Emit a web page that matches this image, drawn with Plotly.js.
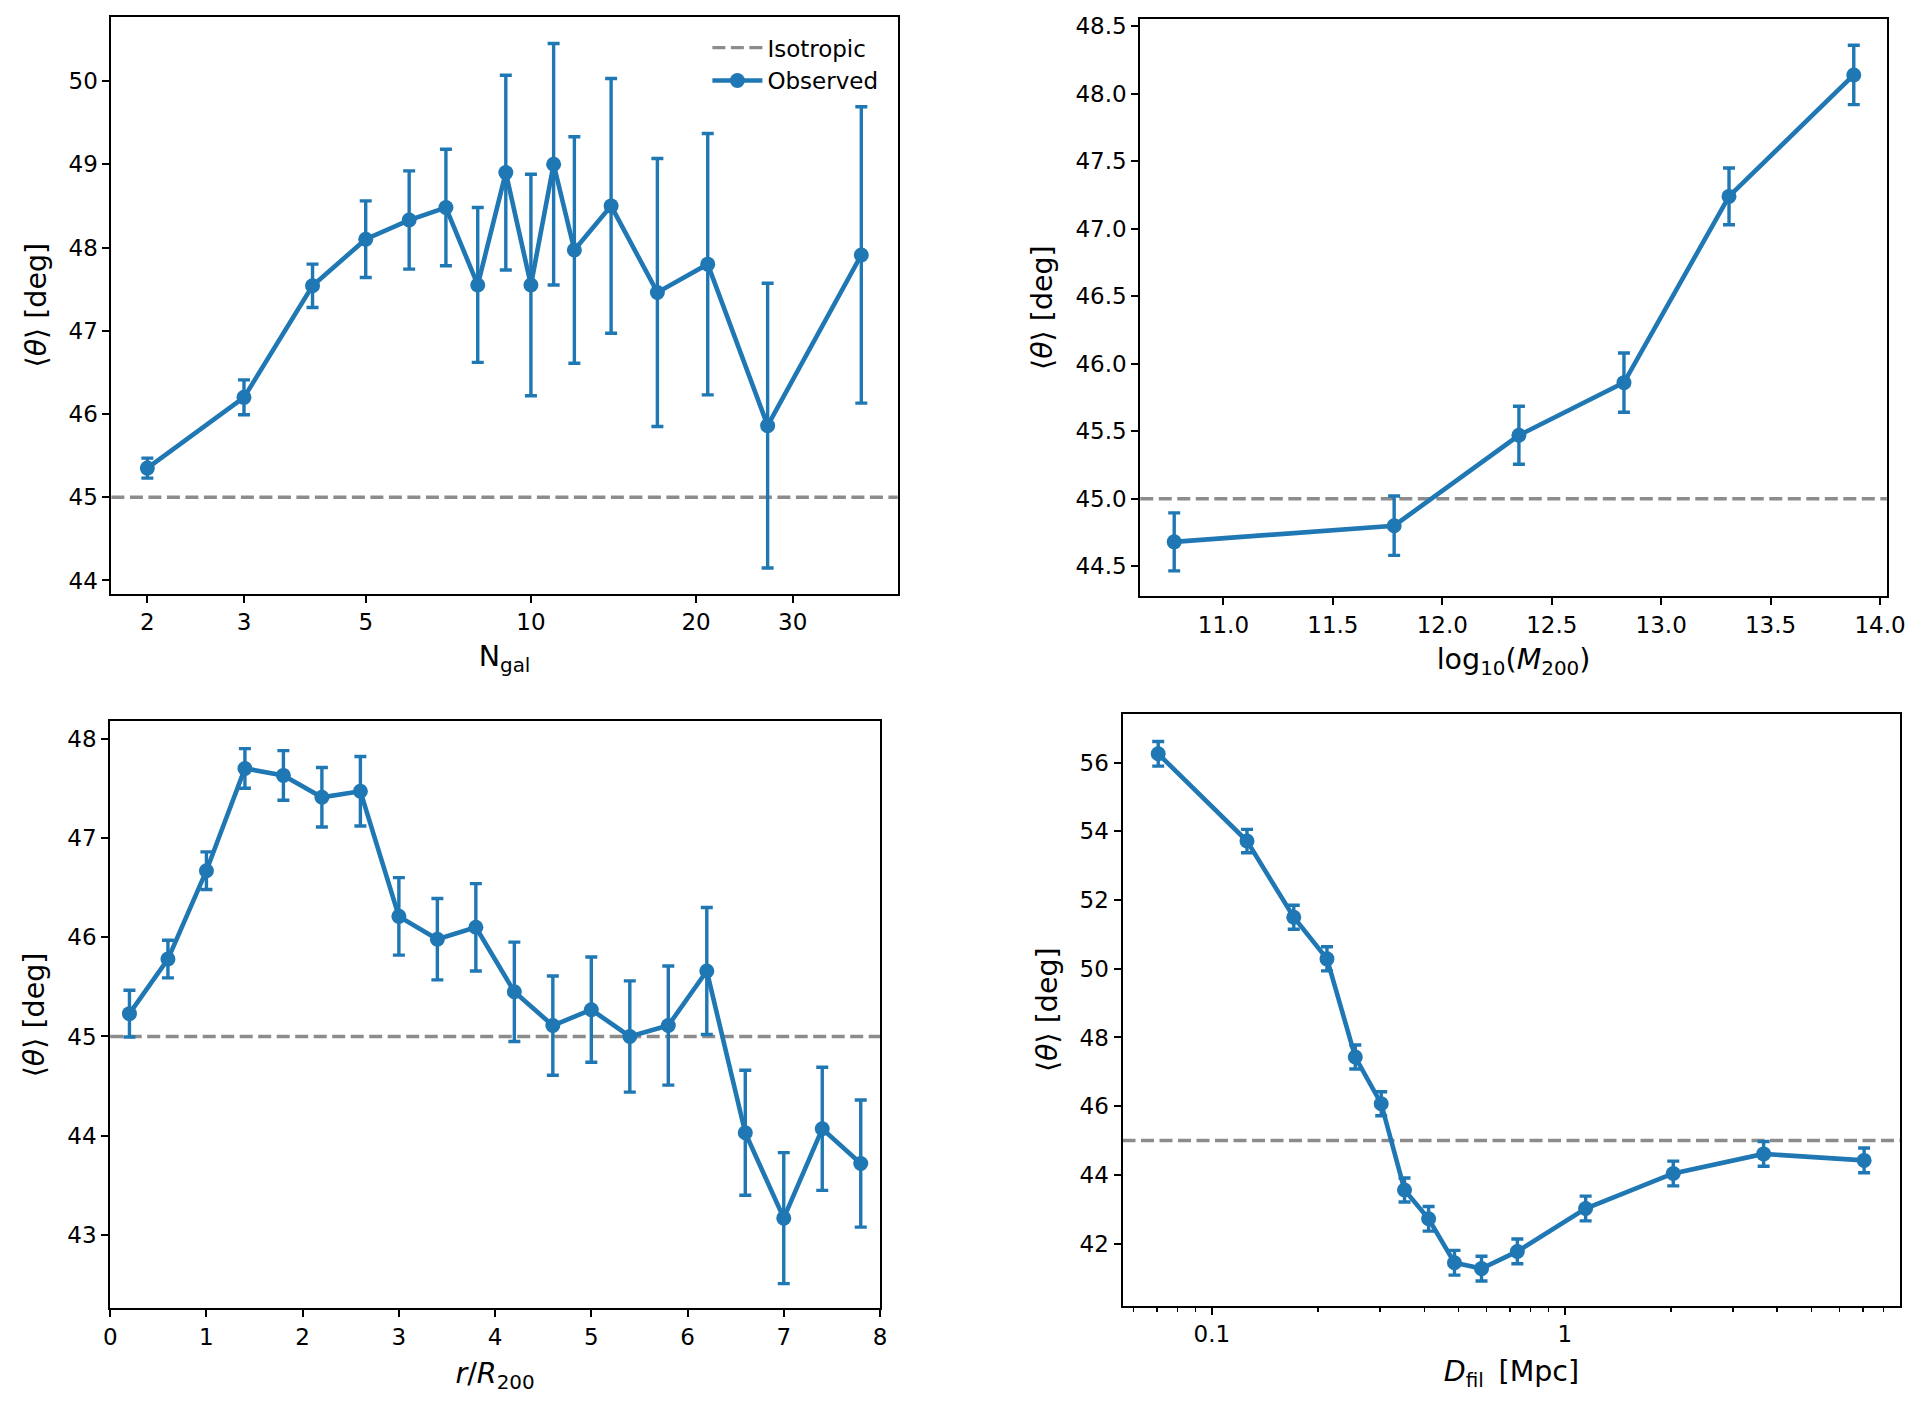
<!DOCTYPE html>
<html><head><meta charset="utf-8">
<script src="https://cdn.plot.ly/plotly-3.0.1.min.js"></script>
<style>html,body{margin:0;padding:0;background:#fff}#chart{width:1925px;height:1413px}</style>
</head><body><div id="chart"></div>
<script>
// ---- data ----
const ISOTROPIC = 45;

const nGal      = [2, 3, 4, 5, 6, 7, 8, 9, 10, 11, 12, 14, 17, 21, 27, 40];
const thetaNgal = [45.35, 46.20, 47.54, 48.10, 48.33, 48.48, 47.55, 48.90, 47.55, 49.00, 47.97, 48.50, 47.46, 47.80, 45.86, 47.91];
const errNgal   = [0.12, 0.21, 0.26, 0.46, 0.59, 0.70, 0.93, 1.17, 1.33, 1.45, 1.36, 1.53, 1.61, 1.57, 1.71, 1.78];

const logM      = [10.775, 11.78, 12.35, 12.83, 13.31, 13.88];
const thetaM    = [44.68, 44.80, 45.47, 45.86, 47.24, 48.14];
const errM      = [0.215, 0.22, 0.215, 0.22, 0.21, 0.22];

const rR200     = [0.2, 0.6, 1.0, 1.4, 1.8, 2.2, 2.6, 3.0, 3.4, 3.8, 4.2, 4.6, 5.0, 5.4, 5.8, 6.2, 6.6, 7.0, 7.4, 7.8];
const thetaR    = [45.23, 45.78, 46.67, 47.70, 47.63, 47.41, 47.47, 46.21, 45.98, 46.10, 45.45, 45.11, 45.27, 45.00, 45.11, 45.66, 44.03, 43.17, 44.07, 43.72];
const errR      = [0.235, 0.19, 0.19, 0.20, 0.25, 0.30, 0.35, 0.39, 0.41, 0.44, 0.50, 0.50, 0.53, 0.56, 0.60, 0.64, 0.63, 0.66, 0.62, 0.64];

const dFil      = [0.0705, 0.1258, 0.1707, 0.212, 0.255, 0.302, 0.3516, 0.4114, 0.487, 0.581, 0.734, 1.146, 2.03, 3.66, 7.05];
const thetaD    = [56.26, 53.72, 51.50, 50.29, 47.43, 46.07, 43.56, 42.72, 41.44, 41.27, 41.77, 43.02, 44.04, 44.61, 44.42];
const errD      = [0.36, 0.34, 0.35, 0.35, 0.35, 0.35, 0.35, 0.36, 0.36, 0.36, 0.36, 0.36, 0.36, 0.36, 0.36];

const ticksNgal = [2, 3, 5, 10, 20, 30];
const ticksDMajor = [0.1, 1];
const ticksDMajorText = ['0.1', '1'];
const ticksDMinor = [0.06, 0.07, 0.08, 0.09, 0.2, 0.3, 0.4, 0.5, 0.6, 0.7, 0.8, 0.9, 2, 3, 4, 5, 6, 7, 8];

// ---- style ----
const BLUE = '#1f77b4';
const GRAY = '#8c8c8c';
const FONT = 'DejaVu Sans, Liberation Sans, sans-serif';
const TICKSIZE = 23;
const LABELSIZE = 28.5;
const YTITLE = '\u27E8<i>\u03B8</i>\u27E9 [deg]';

function obs(x, y, err, n, showlegend) {
  return {
    type: 'scatter', mode: 'lines+markers', x: x, y: y,
    xaxis: 'x' + (n === 1 ? '' : n), yaxis: 'y' + (n === 1 ? '' : n),
    name: 'Observed', showlegend: showlegend,
    line: {color: BLUE, width: 4.6},
    marker: {color: BLUE, size: 15},
    error_y: {type: 'data', array: err, visible: true, color: BLUE, thickness: 3.4, width: 6}
  };
}

function baseAxis(extra) {
  return Object.assign({
    showline: true, mirror: true, linecolor: 'black', linewidth: 2,
    ticks: 'outside', ticklen: 7, tickwidth: 2, tickcolor: 'black',
    showgrid: false, zeroline: false,
    tickfont: {family: FONT, size: TICKSIZE, color: 'black'},
    automargin: false
  }, extra);
}

function isoShape(n) {
  const s = n === 1 ? '' : n;
  return {type: 'line', xref: 'x' + s + ' domain', yref: 'y' + s, x0: 0, x1: 1, y0: ISOTROPIC, y1: ISOTROPIC,
          line: {color: GRAY, width: 3.4, dash: '13px,5.5px'}, layer: 'below'};
}

const traces = [
  {type: 'scatter', mode: 'lines', x: [null], y: [null], name: 'Isotropic', showlegend: true,
   line: {color: GRAY, width: 3.4, dash: '13px,5.5px'}, xaxis: 'x', yaxis: 'y'},
  obs(nGal, thetaNgal, errNgal, 1, true),
  obs(logM, thetaM, errM, 2, false),
  obs(rR200, thetaR, errR, 3, false),
  obs(dFil, thetaD, errD, 4, false)
];

const layout = {
  width: 1925, height: 1413,
  margin: {l: 0, r: 0, t: 0, b: 0},
  paper_bgcolor: 'white', plot_bgcolor: 'white',
  font: {family: FONT, color: 'black'},
  showlegend: true,
  legend: {x: 0.4589, xanchor: 'right', y: 0.9815, yanchor: 'top', bgcolor: 'rgba(0,0,0,0)',
           itemwidth: 50,
           font: {family: FONT, size: TICKSIZE, color: 'black'}, tracegroupgap: 0},
  xaxis: baseAxis({domain: [0.05787, 0.46634], anchor: 'y', type: 'log',
    range: [Math.log10(1.72), Math.log10(46.6)], tickmode: 'array', tickvals: ticksNgal,
    ticktext: ticksNgal.map(String),
    title: {text: 'N<sub>gal</sub>', font: {family: FONT, size: LABELSIZE}, standoff: 12}}),
  yaxis: baseAxis({domain: [0.57976, 0.98832], anchor: 'x', range: [43.84, 50.775], dtick: 1,
    title: {text: YTITLE, font: {family: FONT, size: LABELSIZE}, standoff: 14}}),
  xaxis2: baseAxis({domain: [0.59236, 0.98016], anchor: 'y2', range: [10.62, 14.031], dtick: 0.5, tickformat: '.1f',
    title: {text: 'log<sub>10</sub>(<i>M</i><sub>200</sub>)', font: {family: FONT, size: LABELSIZE}, standoff: 12}}),
  yaxis2: baseAxis({domain: [0.57792, 0.98670], anchor: 'x2', range: [44.276, 48.556], dtick: 0.5, tickformat: '.1f',
    title: {text: YTITLE, font: {family: FONT, size: LABELSIZE}, standoff: 14}}),
  xaxis3: baseAxis({domain: [0.05725, 0.45714], anchor: 'y3', range: [0, 8], dtick: 1,
    title: {text: '<i>r</i>/<i>R</i><sub>200</sub>', font: {family: FONT, size: LABELSIZE}, standoff: 14}}),
  yaxis3: baseAxis({domain: [0.07396, 0.48946], anchor: 'x3', range: [42.26, 48.174], dtick: 1,
    title: {text: YTITLE, font: {family: FONT, size: LABELSIZE}, standoff: 14}}),
  xaxis4: baseAxis({domain: [0.58312, 0.98722], anchor: 'y4', type: 'log', range: [-1.253, 0.951],
    tickmode: 'array', tickvals: ticksDMajor, ticktext: ticksDMajorText,
    minor: {tickmode: 'array', tickvals: ticksDMinor, ticks: 'outside', ticklen: 4, tickwidth: 1.5, tickcolor: 'black', showgrid: false},
    title: {text: '<i>D</i><sub>fil</sub>\u2009 [Mpc]', font: {family: FONT, size: LABELSIZE}, standoff: 15}}),
  yaxis4: baseAxis({domain: [0.07594, 0.49497], anchor: 'x4', range: [40.19, 57.43], dtick: 2,
    title: {text: YTITLE, font: {family: FONT, size: LABELSIZE}, standoff: 14}}),
  shapes: [isoShape(1), isoShape(2), isoShape(3), isoShape(4)]
};

Plotly.newPlot('chart', traces, layout, {displayModeBar: false, staticPlot: true});
</script>
</body></html>
